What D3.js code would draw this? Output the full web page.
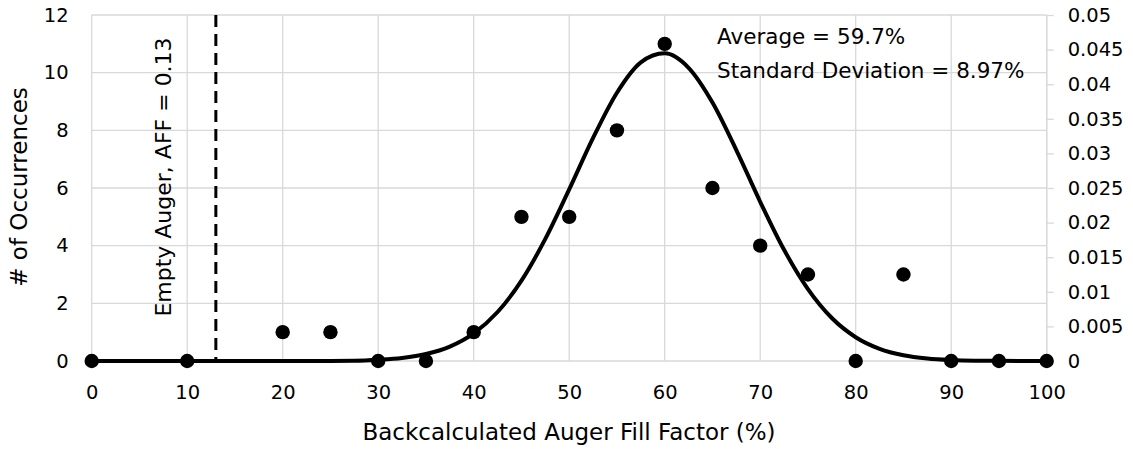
<!DOCTYPE html>
<html><head><meta charset="utf-8">
<script src="https://cdn.jsdelivr.net/npm/d3@7"></script>
<style>body{margin:0;background:#fff}svg text{font-family:"DejaVu Sans",sans-serif;fill:#000}</style>
</head><body><svg id="c" width="1133" height="449"></svg>
<script>
const xValues = [0,10,20,25,30,35,40,45,50,55,60,65,70,75,80,85,90,95,100];
const counts  = [0,0,1,1,0,0,1,5,5,8,11,6,4,3,0,3,0,0,0];
const curveX = [0,5,10,15,20,25,27.5,30,32.5,35,37.5,40,42.5,45,47.5,50,52.5,55,57.5,60,62.5,65,67.5,70,72.5,75,77.5,80,82.5,85,87.5,90,92.5,95,100];
const curveY = [0,0,0,0,0.000001,0.00001,0.00004,0.000185,0.000448,0.001004,0.00208,0.00399,0.00708,0.01161,0.01764,0.02479,0.03223,0.03877,0.04316,0.04446,0.04237,0.03735,0.03048,0.02301,0.01607,0.01039,0.00621,0.00344,0.00176,0.00083,0.000365,0.000148,0.00005,0.00002,0];
const xTicks = [0,10,20,30,40,50,60,70,80,90,100];
const yLeftTicks = [0,2,4,6,8,10,12];
const yRightTicks = [0,0.005,0.01,0.015,0.02,0.025,0.03,0.035,0.04,0.045,0.05];
const emptyAuger = 13;
const notes = ["Average = 59.7%","Standard Deviation = 8.97%"];

const svg = d3.select("#c");
const L=91.7, R=1046.7, T=15, B=361;
const x = d3.scaleLinear().domain([0,100]).range([L,R]);
const yL = d3.scaleLinear().domain([0,12]).range([B,T]);
const yR = d3.scaleLinear().domain([0,0.05]).range([B,T]);
const grid="#d9d9d9";
const fs="19.5px";
svg.append("g").selectAll("line").data(yLeftTicks).join("line")
  .attr("x1",L).attr("x2",R).attr("y1",d=>yL(d)).attr("y2",d=>yL(d)).attr("stroke",grid).attr("stroke-width",1.3);
svg.append("g").selectAll("line").data(xTicks).join("line")
  .attr("x1",d=>x(d)).attr("x2",d=>x(d)).attr("y1",T).attr("y2",B).attr("stroke",grid).attr("stroke-width",1.3);
const ly = svg.append("g").attr("transform",`translate(${L},0)`).call(d3.axisLeft(yL).tickValues(yLeftTicks).tickSize(0).tickPadding(23).tickFormat(d3.format("d")));
ly.select(".domain").remove();
ly.selectAll("text").style("font-size",fs).attr("fill","#000");
const ry = svg.append("g").attr("transform",`translate(${R},0)`).call(d3.axisRight(yR).tickValues(yRightTicks).tickSize(7).tickPadding(14).tickFormat(d=>d===0?"0":String(+d.toFixed(3))));
ry.select(".domain").attr("stroke",grid).attr("stroke-width",1.3).attr("d",`M0,${T}V${B}`);
ry.selectAll(".tick line").attr("stroke",grid).attr("stroke-width",1.3);
ry.selectAll("text").style("font-size",fs).attr("fill","#000");
const gx = svg.append("g").attr("transform",`translate(0,${B})`).call(d3.axisBottom(x).tickValues(xTicks).tickSize(0).tickPadding(24).tickFormat(d3.format("d")));
gx.select(".domain").remove();
gx.selectAll("text").style("font-size",fs).attr("fill","#000");
svg.append("line").attr("x1",x(emptyAuger)).attr("x2",x(emptyAuger)).attr("y1",T).attr("y2",B)
  .attr("stroke","#000").attr("stroke-width",3).attr("stroke-dasharray","12,7");
svg.append("text").attr("transform",`translate(${x(emptyAuger)-53},${177}) rotate(-90)`)
  .attr("text-anchor","middle").attr("dy","0.35em").style("font-size","22px").text("Empty Auger, AFF = 0.13");
svg.append("path").datum(curveX.map((v,i)=>[v,curveY[i]]))
  .attr("d",d3.line().x(d=>x(d[0])).y(d=>yR(d[1])).curve(d3.curveMonotoneX))
  .attr("fill","none").attr("stroke","#000").attr("stroke-width",4);
svg.append("g").selectAll("circle").data(xValues).join("circle")
  .attr("cx",d=>x(d)).attr("cy",(d,i)=>yL(counts[i])).attr("r",7.2).attr("fill","#000");
svg.append("g").selectAll("text").data(notes).join("text")
  .attr("x",717).attr("y",(d,i)=>44+i*34).style("font-size","21.5px").text(d=>d);
svg.append("text").attr("x",569).attr("y",440).attr("text-anchor","middle").style("font-size","23px").text("Backcalculated Auger Fill Factor (%)");
svg.append("text").attr("transform",`translate(19,187) rotate(-90)`).attr("text-anchor","middle").attr("dy","0.35em").style("font-size","23px").text("# of Occurrences");
</script></body></html>
